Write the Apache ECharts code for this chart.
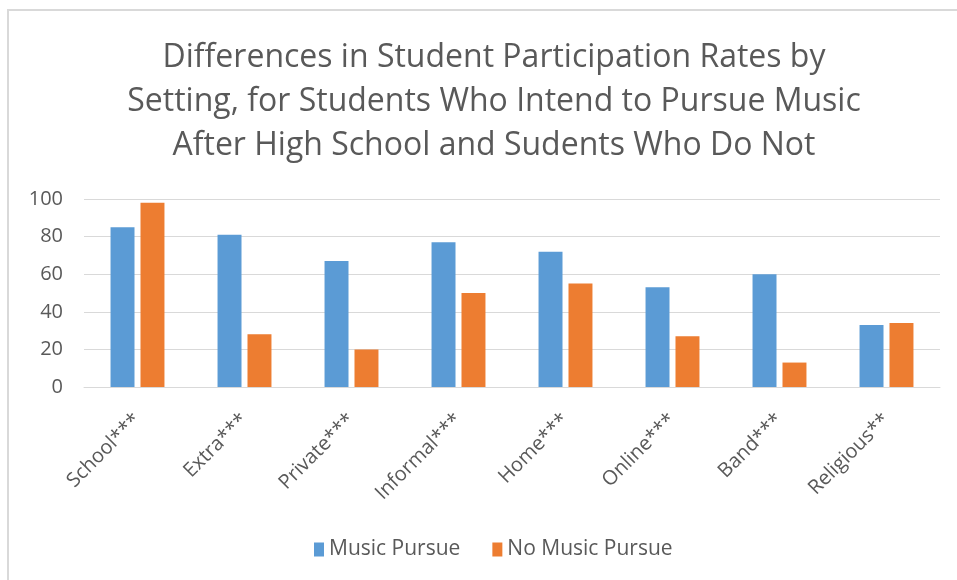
<!DOCTYPE html>
<html>
<head>
<meta charset="utf-8">
<script src="https://cdn.jsdelivr.net/npm/echarts@6/dist/echarts.min.js"></script>
<style>
  html, body { margin: 0; padding: 0; background: #fff; }
  #chart { width: 957px; height: 580px; }
</style>
</head>
<body>
<div id="chart"></div>
<script>
// Participation settings and rates (%) for the two student groups
const categories = ['School***', 'Extra***', 'Private***', 'Informal***', 'Home***', 'Online***', 'Band***', 'Religious**'];
const musicPursue = [85, 81, 67, 77, 72, 53, 60, 33];
const noMusicPursue = [98, 28, 20, 50, 55, 27, 13, 34];
const yTicks = [0, 20, 40, 60, 80, 100];

const textColor = '#595959';
const fontFamily = '"Open Sans", "Noto Sans", sans-serif';

const chart = echarts.init(document.getElementById('chart'), null, { renderer: 'canvas' });
chart.setOption({
  backgroundColor: '#ffffff',
  animation: false,
  textStyle: { fontFamily: fontFamily },
  graphic: [{
    type: 'rect',
    shape: { x: 8, y: 10, width: 1000, height: 700 },
    style: { fill: 'none', stroke: '#d9d9d9', lineWidth: 2 },
    silent: true,
    z: -1
  }],
  title: {
    text: 'Differences in Student Participation Rates by\nSetting, for Students Who Intend to Pursue Music\nAfter High School and Sudents Who Do Not',
    left: 489,
    textAlign: 'center',
    top: 31,
    textStyle: {
      color: textColor,
      fontFamily: fontFamily,
      fontWeight: 'normal',
      fontSize: 32,
      lineHeight: 44
    }
  },
  legend: {
    bottom: 15,
    left: 309,
    itemWidth: 10,
    itemHeight: 14,
    itemGap: 32,
    icon: 'rect',
    textStyle: { color: textColor, fontSize: 21, fontFamily: fontFamily },
    data: ['Music Pursue', 'No Music Pursue']
  },
  grid: { left: 84, right: 17, top: 199, bottom: 193, containLabel: false },
  xAxis: {
    type: 'category',
    data: categories,
    axisLine: { show: true, lineStyle: { color: '#d9d9d9', width: 1 } },
    axisTick: { show: false },
    axisLabel: {
      rotate: 45,
      interval: 0,
      margin: 30,
      color: textColor,
      fontSize: 20,
      fontFamily: fontFamily
    }
  },
  yAxis: {
    type: 'value',
    min: yTicks[0],
    max: yTicks[yTicks.length - 1],
    interval: yTicks[1] - yTicks[0],
    axisLine: { show: false },
    axisTick: { show: false },
    axisLabel: { color: textColor, fontSize: 20, margin: 21, fontFamily: fontFamily },
    splitLine: { lineStyle: { color: '#d9d9d9', width: 1 } }
  },
  series: [
    {
      name: 'Music Pursue',
      type: 'bar',
      data: musicPursue,
      barWidth: '22.4%',
      barGap: '25%',
      itemStyle: { color: '#5b9bd5' }
    },
    {
      name: 'No Music Pursue',
      type: 'bar',
      data: noMusicPursue,
      barWidth: '22.4%',
      itemStyle: { color: '#ed7d31' }
    }
  ]
});
</script>
</body>
</html>
